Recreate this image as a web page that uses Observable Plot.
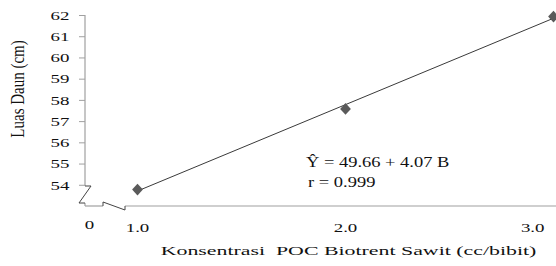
<!DOCTYPE html>
<html><head><meta charset="utf-8">
<script src="https://cdn.jsdelivr.net/npm/d3@7"></script>
<script src="https://cdn.jsdelivr.net/npm/@observablehq/plot@0.6"></script>
<style>body{margin:0;background:#fff}svg{display:block}svg text{font-family:"Liberation Serif","Times New Roman",serif !important}</style>
</head><body><div id="chart"></div>
<script>
const xValues = [1, 2, 3];
const yValues = [53.8, 57.6, 61.95];
const yTicks = [54, 55, 56, 57, 58, 59, 60, 61, 62];
const xTicks = [1, 2, 3];
const xTickLabels = ["1.0", "2.0", "3.0"];
const xOriginLabel = "0";
const intercept = 49.66, slope = 4.07;
const eqLines = ["\u0176 = 49.66 + 4.07 B", "r = 0.999"];
const eqPos = [{x: 1.81, y: 55.05}, {x: 1.82, y: 54.12}];
const xTitle = "Konsentrasi  POC Biotrent Sawit (cc/bibit)";
const yTitle = "Luas Daun (cm)";

const points = xValues.map((x, i) => ({x, y: yValues[i]}));
const fit = [xValues[0], xValues[xValues.length - 1]].map(x => ({x, y: intercept + slope * x}));
const eq = eqLines.map((t, i) => ({t, ...eqPos[i]}));

const plot = Plot.plot({
  width: 556, height: 266,
  marginLeft: 85, marginRight: 3, marginTop: 15, marginBottom: 60,
  style: {fontSize: "13.5px", color: "#000", background: "#fff"},
  x: {domain: [0.75, 3], axis: null},
  y: {domain: [53, 62], axis: null},
  marks: [
    Plot.axisY({ticks: yTicks, tickSize: 6, tickPadding: 10, stroke: "#a0a0a0", fill: "#111", label: null, fontSize: 13.5}),
    Plot.axisX({ticks: [1, 2], tickSize: 0, tickPadding: 16, tickFormat: (d) => xTickLabels[xTicks.indexOf(d)], fill: "#111", label: null, fontSize: 13.5}),
    Plot.axisX({ticks: [3], tickSize: 0, tickPadding: 16, tickFormat: (d) => xTickLabels[xTicks.indexOf(d)], textAnchor: "end", dx: -9, fill: "#111", label: null, fontSize: 13.5}),
    Plot.line(fit, {x: "x", y: "y", stroke: "#3a3a3a", strokeWidth: 1}),
    Plot.dot(points, {x: "x", y: "y", symbol: "diamond", r: 4.2, fill: "#5a5a5a", stroke: "none"}),
    Plot.text(eq, {x: "x", y: "y", text: "t", textAnchor: "start", fontSize: 14, fill: "#111"}),
    Plot.text([xTitle], {frameAnchor: "bottom", textAnchor: "middle", dx: 29, dy: 48, fontSize: 13.5, fill: "#111"}),
    Plot.text([yTitle], {frameAnchor: "left", textAnchor: "middle", rotate: -90, dx: -67, dy: -22, fontSize: 15, fill: "#111"}),
    Plot.text([xOriginLabel], {frameAnchor: "bottom-left", textAnchor: "middle", dx: 4, dy: 22, fontSize: 13.5, fill: "#111"})
  ]
});
document.getElementById("chart").appendChild(plot);

// axis lines with break symbols, positioned from the scales
const sx = plot.scale("x"), sy = plot.scale("y");
const x0 = sx.apply(sx.domain[0]), x1 = sx.range[1];
const y0 = sy.apply(sy.domain[0]), yTop = sy.apply(sy.domain[1]);
const svg = d3.select(plot);
const g = svg.append("g").attr("fill", "none").attr("stroke", "#a0a0a0").attr("stroke-width", 1.2);
g.append("path").attr("d", `M${x0},${yTop}V${y0 - 20}`);
g.append("path").attr("d", `M${x0},${y0 - 3}V${y0}`);
g.append("path").attr("stroke", "#444").attr("stroke-width", 1)
  .attr("d", `M${x0},${y0 - 20}H${x0 + 6}L${x0 - 6},${y0 - 3}H${x0}`);
g.append("path").attr("d", `M${x0},${y0}H${x0 + 18}`);
g.append("path").attr("d", `M${x0 + 40},${y0}H${x1 + 10}`);
g.append("path").attr("stroke", "#444").attr("stroke-width", 1)
  .attr("d", `M${x0 + 18},${y0}V${y0 - 4}L${x0 + 40},${y0 + 4}V${y0}`);

// stretch glyphs horizontally like the reference
plot.querySelectorAll("text").forEach(t => {
  const tr = t.getAttribute("transform") || "";
  const txt = t.textContent;
  let s;
  if (txt === yTitle) s = "scale(1,1.2)";
  else if (txt === xTitle) s = "scale(1.62,1)";
  else if (eqLines.includes(txt)) s = "scale(1.32,1)";
  else s = "scale(1.4,1)";
  t.setAttribute("transform", `${tr} ${s}`);
});
plot.querySelectorAll('g[aria-label="dot"] path').forEach(p => {
  p.setAttribute("transform", (p.getAttribute("transform") || "") + " scale(1.35,0.85)");
});
</script></body></html>
